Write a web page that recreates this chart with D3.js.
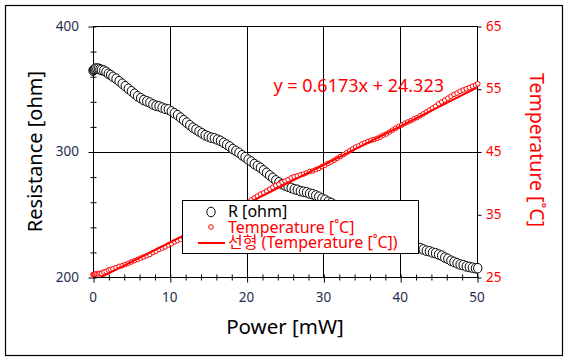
<!DOCTYPE html>
<html>
<head>
<meta charset="utf-8">
<script src="https://cdn.jsdelivr.net/npm/d3@7"></script>
<style>
  body { margin: 0; background: #fff; }
  text { font-family: "Noto Sans", "Noto Sans CJK KR", sans-serif; }
</style>
</head>
<body>
<div id="chart"></div>
<script>
// measured power [mW]
var power = [0, 0.1, 0.2, 0.3, 0.5, 0.7, 0.9, 1.1, 1.4, 1.7, 2.0, 2.3, 2.6,
    3.0, 3.4, 3.8, 4.2, 4.6, 5.0, 5.4, 5.8, 6.2, 6.6, 7.0, 7.4, 7.8, 8.2, 8.6, 9.0, 9.4, 9.8,
    10.2, 10.6, 11.0, 11.4, 11.8, 12.2, 12.6, 13.0, 13.4, 13.8, 14.2, 14.6, 15.0, 15.4, 15.8,
    16.2, 16.6, 17.0, 17.4, 17.8, 18.2, 18.6, 19.0, 19.4, 19.8, 20.2, 20.6, 21.0, 21.4, 21.8,
    22.2, 22.6, 23.0, 23.4, 23.8, 24.2, 24.6, 25.0, 25.4, 25.8, 26.2, 26.6, 27.0, 27.4, 27.8,
    28.2, 28.6, 29.0, 29.4, 29.8, 30.2, 30.6, 31.0, 31.4, 31.8, 32.2, 32.6, 33.0, 33.4, 33.8,
    34.2, 34.6, 35.0, 35.4, 35.8, 36.2, 36.6, 37.0, 37.4, 37.8, 38.2, 38.6, 39.0, 39.4, 39.8,
    40.2, 40.6, 41.0, 41.4, 41.8, 42.2, 42.6, 43.0, 43.4, 43.8, 44.2, 44.6, 45.0, 45.4, 45.8,
    46.2, 46.6, 47.0, 47.4, 47.8, 48.2, 48.6, 49.0, 49.4, 49.8, 50.1];

// R [ohm]
var resistance = [364.5, 365, 365.5, 366, 366, 366, 365.5, 365, 364.5, 363.5, 362, 361, 359.5,
    358, 356, 354, 352, 350, 348, 346, 344, 342.5, 341, 340, 339, 337.5, 336.5, 336, 335, 334, 333.5,
    332, 330.5, 329, 327, 325, 323, 321, 319, 317.5, 316, 314.5, 313, 312, 311, 310.5,
    309.5, 308.5, 307, 305.5, 304, 302, 300.5, 299, 297, 295.5, 293.5, 292, 290, 288.5, 287,
    285, 283, 281, 279, 277, 275.5, 274, 273, 272, 271, 270, 269.5, 268.5, 268, 267.5,
    266.5, 266, 265, 264, 262.5, 261.5, 260, 259, 257.5, 256, 255, 253.5, 252, 251, 249.5,
    248.5, 247, 246, 245, 243.5, 242.5, 241, 240, 238.5, 237, 235, 234, 232.5, 231, 229.5,
    228.5, 227, 226, 225, 224.5, 223.5, 223, 222, 221, 220.5, 219.5, 219, 218, 217, 215.5,
    214.5, 213, 212, 211, 210, 209.5, 208.5, 208, 207.5, 207, 207];

// Temperature ['C]
var temperature = [25.4, 25.4, 25.4, 25.5, 25.5, 25.5, 25.6, 25.6, 25.8, 25.9, 26.1, 26.2, 26.3,
    26.5, 26.7, 26.8, 27.0, 27.2, 27.4, 27.6, 27.8, 28.0, 28.2, 28.4, 28.6, 28.9, 29.1, 29.4, 29.6, 29.8, 30.1,
    30.3, 30.6, 30.8, 31.0, 31.3, 31.5, 31.8, 32.0, 32.2, 32.5, 32.7, 33.0, 33.2, 33.5, 33.8,
    34.0, 34.3, 34.6, 34.9, 35.2, 35.5, 35.8, 36.1, 36.4, 36.6, 36.9, 37.3, 37.6, 37.9, 38.2,
    38.4, 38.7, 39.0, 39.3, 39.6, 39.8, 40.1, 40.3, 40.5, 40.8, 41.0, 41.1, 41.3, 41.4, 41.6,
    41.8, 41.9, 42.1, 42.3, 42.6, 42.8, 43.1, 43.3, 43.6, 43.9, 44.2, 44.5, 44.8, 45.1, 45.4,
    45.7, 45.9, 46.2, 46.4, 46.6, 46.8, 46.9, 47.1, 47.3, 47.6, 47.8, 48.1, 48.4, 48.7, 49.0,
    49.2, 49.5, 49.7, 49.9, 50.2, 50.4, 50.7, 51.0, 51.3, 51.6, 51.9, 52.2, 52.6, 52.9, 53.2,
    53.5, 53.8, 54.1, 54.3, 54.6, 54.8, 55.0, 55.2, 55.4, 55.6, 55.8];

// linear trend of temperature (Excel): y = 0.6173x + 24.323
var trendSlope = 0.6173, trendIntercept = 24.323;
var trendRange = [0, 50];

var xTicks = [0, 10, 20, 30, 40, 50];
var rTicks = [200, 300, 400];
var tTicks = [25, 35, 45, 55, 65];

var red = "#ff0000", navy = "#1f2d4d";

var W = 569, H = 361;
var plot = { left: 93, right: 477, top: 26, bottom: 277 };

var svg = d3.select("#chart").append("svg")
    .attr("width", W)
    .attr("height", H);

// outer frame
svg.append("rect")
    .attr("x", 5.5).attr("y", 5.5)
    .attr("width", 557).attr("height", 350)
    .attr("fill", "#fff").attr("stroke", "#000").attr("stroke-width", 1.2);

var x = d3.scaleLinear().domain([0, 50]).range([plot.left, plot.right]);
var yR = d3.scaleLinear().domain([200, 400]).range([plot.bottom, plot.top]);
var yT = d3.scaleLinear().domain([25, 65]).range([plot.bottom, plot.top]);

// gridlines
var grid = svg.append("g").attr("stroke", "#000").attr("stroke-width", 1);
grid.selectAll(".gx").data(xTicks.slice(1, -1)).enter().append("line")
    .attr("x1", d => Math.round(x(d)) + 0.5).attr("x2", d => Math.round(x(d)) + 0.5)
    .attr("y1", plot.top).attr("y2", plot.bottom);
grid.selectAll(".gy").data([300]).enter().append("line")
    .attr("x1", plot.left).attr("x2", plot.right)
    .attr("y1", d => Math.round(yR(d)) + 0.5).attr("y2", d => Math.round(yR(d)) + 0.5);

svg.append("rect")
    .attr("x", plot.left + 0.5).attr("y", plot.top + 0.5)
    .attr("width", plot.right - plot.left).attr("height", plot.bottom - plot.top)
    .attr("fill", "none").attr("stroke", "#000").attr("stroke-width", 1);

// axes
var xAxis = d3.axisBottom(x).tickValues(d3.range(0, 51, 2)).tickSize(4).tickFormat("");
svg.append("g").attr("transform", "translate(0.5," + (plot.bottom + 0.5) + ")").call(xAxis)
    .call(g => g.select(".domain").remove())
    .call(g => g.selectAll(".tick line").attr("y1", -3).attr("y2", d => d % 10 === 0 ? 5 : 3));

svg.append("g").selectAll("text").data(xTicks).enter().append("text")
    .attr("x", d => x(d)).attr("y", 302)
    .attr("text-anchor", "middle").attr("font-size", 13.5).attr("fill", navy)
    .text(d => d);

var yAxis = d3.axisLeft(yR).tickValues(d3.range(200, 401, 20)).tickSize(3).tickFormat("");
svg.append("g").attr("transform", "translate(" + (plot.left + 0.5) + ",0.5)").call(yAxis)
    .call(g => g.select(".domain").remove())
    .call(g => g.selectAll(".tick line").attr("x1", 3).attr("x2", d => d % 100 === 0 ? -5 : -3));

svg.append("g").selectAll("text").data(rTicks).enter().append("text")
    .attr("x", 79).attr("y", d => yR(d) + 4.5)
    .attr("text-anchor", "end").attr("font-size", 13.5).attr("fill", navy)
    .text(d => d);

var y2Axis = d3.axisRight(yT).tickValues(tTicks).tickSize(4).tickFormat("");
svg.append("g").attr("transform", "translate(" + (plot.right + 0.5) + ",0.5)").call(y2Axis)
    .call(g => g.select(".domain").remove());

svg.append("g").selectAll("text").data(tTicks).enter().append("text")
    .attr("x", 486).attr("y", d => yT(d) + 4.5)
    .attr("font-size", 13.5).attr("fill", red)
    .text(d => d);

// axis titles
svg.append("text")
    .attr("transform", "translate(42,151.5) rotate(-90)")
    .attr("text-anchor", "middle").attr("font-size", 20).attr("fill", "#000")
    .text("Resistance [ohm]");

svg.append("text")
    .attr("transform", "translate(530,150) rotate(90)")
    .attr("text-anchor", "middle").attr("font-size", 19.5).attr("fill", red)
    .text("Temperature [˚C]");

svg.append("text")
    .attr("x", 285).attr("y", 334)
    .attr("text-anchor", "middle").attr("font-size", 20.5).attr("fill", "#000")
    .text("Power [mW]");

// data
var rData = d3.zip(power, resistance);
var tData = d3.zip(power, temperature);

svg.append("g").selectAll("ellipse").data(rData).enter().append("ellipse")
    .attr("cx", d => x(d[0])).attr("cy", d => yR(d[1])).attr("rx", 4.2).attr("ry", 4.8)
    .attr("fill", "#fff").attr("stroke", "#000").attr("stroke-width", 1);

svg.append("g").selectAll("circle").data(tData).enter().append("circle")
    .attr("cx", d => x(d[0])).attr("cy", d => yT(d[1])).attr("r", 2.3)
    .attr("fill", "#fff").attr("stroke", red).attr("stroke-width", 1);

svg.append("clipPath").attr("id", "clip").append("rect")
    .attr("x", plot.left).attr("y", plot.top)
    .attr("width", plot.right - plot.left).attr("height", plot.bottom - plot.top);

svg.append("line")
    .attr("clip-path", "url(#clip)")
    .attr("x1", x(trendRange[0])).attr("y1", yT(trendSlope * trendRange[0] + trendIntercept))
    .attr("x2", x(trendRange[1])).attr("y2", yT(trendSlope * trendRange[1] + trendIntercept))
    .attr("stroke", red).attr("stroke-width", 2);

svg.append("text")
    .attr("x", 444).attr("y", 92)
    .attr("text-anchor", "end").attr("font-size", 18).attr("fill", red)
    .text("y = " + trendSlope + "x + " + trendIntercept);

// legend
var legend = svg.append("g");
legend.append("rect")
    .attr("x", 182.5).attr("y", 200.5).attr("width", 236).attr("height", 53)
    .attr("fill", "#fff").attr("stroke", "#000").attr("stroke-width", 1);
legend.append("ellipse").attr("cx", 211).attr("cy", 212).attr("rx", 4.2).attr("ry", 4.8)
    .attr("fill", "#fff").attr("stroke", "#000");
legend.append("circle").attr("cx", 211).attr("cy", 227).attr("r", 2.3)
    .attr("fill", "#fff").attr("stroke", red);
legend.append("line").attr("x1", 198).attr("x2", 225).attr("y1", 243).attr("y2", 243)
    .attr("stroke", red).attr("stroke-width", 2);
var labels = [["R [ohm]", "#000"], ["Temperature [˚C]", red], ["선형 (Temperature [˚C])", red]];
legend.selectAll("text").data(labels).enter().append("text")
    .attr("x", 228).attr("y", (d, i) => 217 + i * 15.5)
    .attr("font-size", 16).attr("fill", d => d[1])
    .text(d => d[0]);
</script>
</body>
</html>
